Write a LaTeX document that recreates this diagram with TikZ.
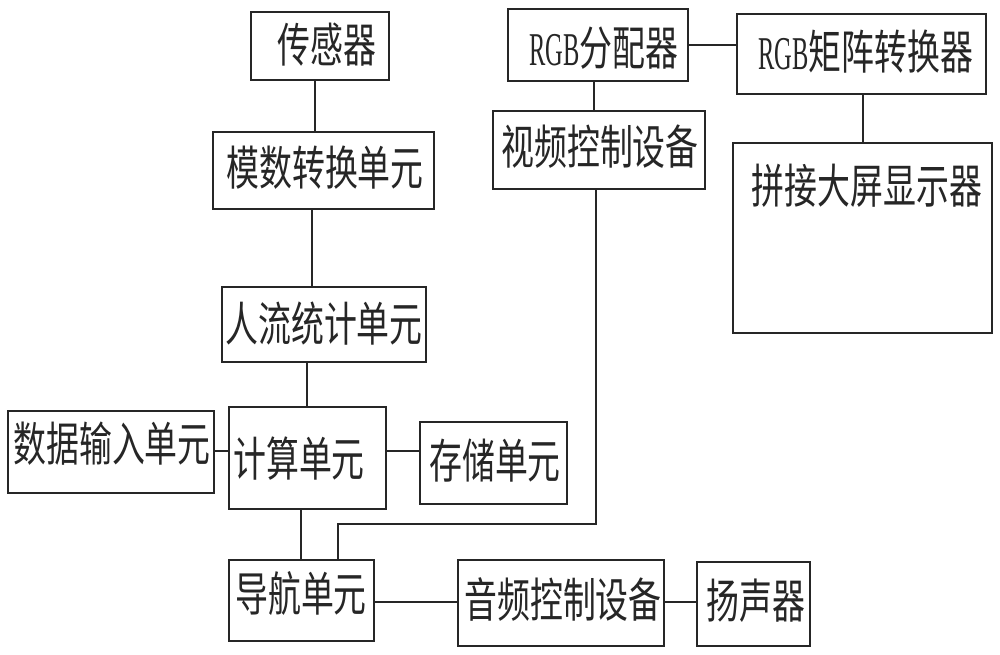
\documentclass[tikz,border=0pt]{standalone}
\usepackage{fontspec}
\setmainfont{Liberation Serif}
\newfontfamily\cjk{Noto Sans CJK SC}
\newcommand\cn[1]{\scalebox{0.70}[1]{\cjk #1}}
\newcommand\rgbtxt{\scalebox{0.52}[1]{RGB}}
\begin{document}
\begin{tikzpicture}[x=1pt,y=-1pt,
  box/.style 2 args={draw=black!85,line width=1.5pt,inner sep=0pt,minimum width=#1pt,minimum height=#2pt},
  txt/.style={inner sep=0pt,font=\fontsize{47}{50}\selectfont,text=black!85},
  wire/.style={draw=black!85,line width=1.2pt}]
\useasboundingbox[fill=white] (0,0) rectangle (1000,655);
% boxes
\node[box={138}{68}] (sensor) at (320,46) {};
\node[box={221}{77}] (adc) at (323.5,170.5) {};
\node[box={204}{75}] (flow) at (324,324.5) {};
\node[box={206}{82}] (input) at (111,452) {};
\node[box={157}{102}] (calc) at (307.5,458) {};
\node[box={147}{82}] (store) at (493.5,463) {};
\node[box={145}{81}] (nav) at (301.5,600.5) {};
\node[box={206}{86}] (audio) at (561,603) {};
\node[box={113}{84}] (speaker) at (753.5,604) {};
\node[box={180}{72}] (rgbd) at (598,45) {};
\node[box={249}{80}] (matrix) at (861.5,54) {};
\node[box={212}{78}] (video) at (599,150) {};
\node[box={259}{190}] (screen) at (862.5,238) {};
% texts
\node[txt] (sensor-t) at (327,45) {\cn{传感器}};
\node[txt] (adc-t) at (325,168) {\cn{模数转换单元}};
\node[txt] (flow-t) at (324,324) {\cn{人流统计单元}};
\node[txt] (input-t) at (112,444) {\cn{数据输入单元}};
\node[txt] (calc-t) at (299,459) {\cn{计算单元}};
\node[txt] (store-t) at (495,461) {\cn{存储单元}};
\node[txt] (nav-t) at (301,594) {\cn{导航单元}};
\node[txt] (audio-t) at (563,600) {\cn{音频控制设备}};
\node[txt] (speaker-t) at (756,601) {\cn{扬声器}};
\node[txt] (rgbd-t) at (604,48) {\rgbtxt\cn{分配器}};
\node[txt] (matrix-t) at (866,52) {\rgbtxt\cn{矩阵转换器}};
\node[txt] (video-t) at (600,147) {\cn{视频控制设备}};
\node[txt] (screen-t) at (867,186) {\cn{拼接大屏显示器}};
% x / y reference coordinates for the connectors
\coordinate (c315) at (315,0);
\coordinate (c312) at (312,0);
\coordinate (c307) at (307,0);
\coordinate (c301) at (301,0);
\coordinate (c338) at (338,0);
\coordinate (c594) at (594,0);
\coordinate (c596) at (596,0);
\coordinate (c863) at (863,0);
\coordinate (r45) at (0,45);
\coordinate (r451) at (0,451);
\coordinate (r602) at (0,602);
\coordinate (bend1) at (596,524);
\coordinate (bend2) at (338,524);
% connectors
\draw[wire] (sensor.south -| c315) -- (adc.north -| c315);
\draw[wire] (adc.south -| c312) -- (flow.north -| c312);
\draw[wire] (flow.south -| c307) -- (calc.north -| c307);
\draw[wire] (input.east |- r451) -- (calc.west |- r451);
\draw[wire] (calc.east |- r451) -- (store.west |- r451);
\draw[wire] (calc.south -| c301) -- (nav.north -| c301);
\draw[wire] (video.south -| c596) -- (bend1) -- (bend2) -- (nav.north -| c338);
\draw[wire] (rgbd.south -| c594) -- (video.north -| c594);
\draw[wire] (rgbd.east |- r45) -- (matrix.west |- r45);
\draw[wire] (matrix.south -| c863) -- (screen.north -| c863);
\draw[wire] (nav.east |- r602) -- (audio.west |- r602);
\draw[wire] (audio.east |- r602) -- (speaker.west |- r602);
\end{tikzpicture}
\end{document}
